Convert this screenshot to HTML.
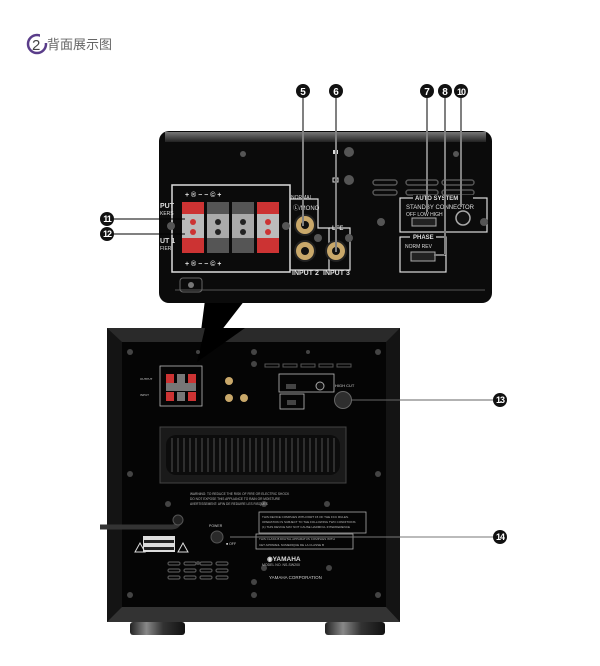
<!DOCTYPE html>
<html><head><meta charset="utf-8"><style>
html,body{margin:0;padding:0;background:#fff;width:600px;height:666px;overflow:hidden}
svg{display:block}
text{font-family:"Liberation Sans",sans-serif}
</style></head><body>
<svg width="600" height="666" viewBox="0 0 600 666" xmlns="http://www.w3.org/2000/svg">
<defs>
<linearGradient id="strip" x1="0" y1="0" x2="0" y2="1"><stop offset="0" stop-color="#777"/><stop offset="1" stop-color="#222"/></linearGradient>
<linearGradient id="foot" x1="0" y1="0" x2="1" y2="0"><stop offset="0" stop-color="#222"/><stop offset=".3" stop-color="#888"/><stop offset=".6" stop-color="#333"/><stop offset="1" stop-color="#111"/></linearGradient>
</defs>
<!-- header -->
<circle cx="37" cy="44" r="9" fill="none" stroke="#5a3d8a" stroke-width="2.5"/>
<rect x="40" y="34" width="8" height="9" fill="#fff"/>
<text x="32" y="50" font-size="15" fill="#444">2</text>
<text x="47" y="49" font-size="13" fill="#666" font-family="'Liberation Sans','Noto Sans CJK SC',sans-serif">背面展示图</text>

<!-- wedge pointer -->
<polygon points="205,300 245,300 197,362" fill="#000"/>

<!-- zoom panel -->
<rect x="159" y="131" width="333" height="172" rx="10" fill="#0b0b0b"/>
<rect x="165" y="132" width="321" height="10" fill="url(#strip)"/>
<line x1="175" y1="290" x2="485" y2="290" stroke="#555" stroke-width="1"/>
<rect x="180" y="278" width="22" height="14" rx="3" fill="none" stroke="#666"/>
<circle cx="191" cy="285" r="3" fill="#777"/>
<circle cx="243" cy="154" r="3" fill="#555"/>
<circle cx="456" cy="154" r="3" fill="#555"/>
<circle cx="349" cy="152" r="5" fill="#555"/><circle cx="349" cy="180" r="5" fill="#555"/>
<rect x="333" y="150" width="5" height="4" fill="#ddd"/><rect x="333" y="178" width="5" height="4" fill="none" stroke="#ddd"/>
<g fill="none" stroke="#555" stroke-width="1.5">
<rect x="373" y="180" width="24" height="5" rx="2.5"/><rect x="406" y="180" width="32" height="5" rx="2.5"/><rect x="442" y="180" width="32" height="5" rx="2.5"/>
<rect x="373" y="190" width="24" height="5" rx="2.5"/><rect x="406" y="190" width="32" height="5" rx="2.5"/><rect x="442" y="190" width="32" height="5" rx="2.5"/>
</g>
<circle cx="381" cy="222" r="4" fill="#555"/>
<!-- speaker terminals -->
<rect x="172" y="185" width="118" height="87" fill="none" stroke="#ddd" stroke-width="1.5"/>
<g>
<rect x="182" y="202" width="22" height="24" fill="#c33"/><rect x="207" y="202" width="22" height="24" fill="#555"/><rect x="232" y="202" width="22" height="24" fill="#555"/><rect x="257" y="202" width="22" height="24" fill="#c33"/>
<rect x="182" y="229" width="22" height="24" fill="#c33"/><rect x="207" y="229" width="22" height="24" fill="#555"/><rect x="232" y="229" width="22" height="24" fill="#555"/><rect x="257" y="229" width="22" height="24" fill="#c33"/>
<rect x="182" y="214" width="22" height="24" fill="#bbb"/><rect x="207" y="214" width="22" height="24" fill="#aaa"/><rect x="232" y="214" width="22" height="24" fill="#aaa"/><rect x="257" y="214" width="22" height="24" fill="#bbb"/>
<circle cx="193" cy="222" r="3" fill="#c33"/><circle cx="268" cy="222" r="3" fill="#c33"/><circle cx="193" cy="232" r="3" fill="#c33"/><circle cx="268" cy="232" r="3" fill="#c33"/>
<circle cx="218" cy="222" r="3" fill="#222"/><circle cx="243" cy="222" r="3" fill="#222"/><circle cx="218" cy="232" r="3" fill="#222"/><circle cx="243" cy="232" r="3" fill="#222"/>
</g>
<text x="185" y="197" font-size="7" fill="#ddd" font-weight="bold">+   ®   −       −   ©   +</text>
<text x="185" y="266" font-size="7" fill="#ddd" font-weight="bold">+   ®   −       −   ©   +</text>
<text x="160" y="208" font-size="7" fill="#ddd" font-weight="bold">PUT</text>
<text x="160" y="215" font-size="5" fill="#ddd">KERS</text>
<text x="160" y="243" font-size="7" fill="#ddd" font-weight="bold">UT 1</text>
<text x="160" y="250" font-size="5" fill="#ddd">FIER</text>
<circle cx="171" cy="226" r="4" fill="#555"/><circle cx="286" cy="226" r="4" fill="#555"/>
<!-- RCA -->
<path d="M290,199 L318,199 L318,228 L329,228 L329,270 L290,270" fill="none" stroke="#ddd" stroke-width="1.2"/>
<path d="M329,228 L350,228 L350,270 L329,270" fill="none" stroke="#ddd" stroke-width="1.2"/>
<text x="291" y="199" font-size="5" fill="#ddd">NORMAL</text>
<text x="293" y="210" font-size="6" fill="#ddd">Ⓛ/MONO</text>
<text x="332" y="230" font-size="6" fill="#ddd" font-weight="bold">LFE</text>
<text x="292" y="275" font-size="7" fill="#ddd" font-weight="bold">INPUT 2</text>
<text x="323" y="275" font-size="7" fill="#ddd" font-weight="bold">INPUT 3</text>
<g fill="#c9a86a" stroke="#222" stroke-width="2">
<circle cx="305" cy="225" r="10"/><circle cx="305" cy="251" r="10"/><circle cx="336" cy="251" r="10"/>
</g>
<g fill="#111"><circle cx="305" cy="225" r="4"/><circle cx="305" cy="251" r="4"/><circle cx="336" cy="251" r="4"/></g>
<circle cx="318" cy="238" r="4" fill="#555"/><circle cx="349" cy="238" r="4" fill="#555"/>
<!-- auto standby -->
<rect x="400" y="198" width="87" height="34" fill="none" stroke="#ddd" stroke-width="1.2"/>
<rect x="413" y="195" width="60" height="6" fill="#0b0b0b"/>
<text x="415" y="200" font-size="6" fill="#ddd" font-weight="bold">AUTO  SYSTEM</text>
<text x="406" y="209" font-size="6" fill="#ddd">STANDBY  CONNECTOR</text>
<text x="406" y="216" font-size="5" fill="#ddd">OFF LOW HIGH</text>
<rect x="412" y="218" width="24" height="8" fill="#222" stroke="#aaa"/>
<circle cx="463" cy="218" r="7" fill="#111" stroke="#aaa" stroke-width="1.5"/>
<circle cx="484" cy="222" r="4" fill="#555"/>
<rect x="400" y="237" width="46" height="35" fill="none" stroke="#ddd" stroke-width="1.2"/>
<rect x="410" y="234" width="26" height="6" fill="#0b0b0b"/>
<text x="413" y="239" font-size="6" fill="#ddd" font-weight="bold">PHASE</text>
<text x="405" y="248" font-size="5" fill="#ddd">NORM  REV</text>
<rect x="411" y="252" width="24" height="9" fill="#222" stroke="#aaa"/>
<!-- callout lines panel -->
<g stroke="#fff" stroke-width="2"><line x1="303" y1="98" x2="303" y2="226"/><line x1="336" y1="98" x2="336" y2="252"/><line x1="427" y1="98" x2="427" y2="212"/><line x1="461" y1="98" x2="461" y2="207"/><polyline points="445,98 445,255 434,255" fill="none"/></g>
<g stroke="#000" stroke-width="1"><line x1="303" y1="98" x2="303" y2="226"/><line x1="336" y1="98" x2="336" y2="252"/><line x1="427" y1="98" x2="427" y2="212"/><line x1="461" y1="98" x2="461" y2="207"/><polyline points="445,98 445,255 434,255" fill="none"/>
<line x1="113" y1="219" x2="185" y2="219"/><line x1="113" y1="234" x2="185" y2="234"/></g>
<g font-size="10" font-weight="bold" fill="#fff" text-anchor="middle">
<circle cx="303" cy="91" r="7" fill="#111"/><text x="303" y="95">5</text>
<circle cx="336" cy="91" r="7" fill="#111"/><text x="336" y="95">6</text>
<circle cx="427" cy="91" r="7" fill="#111"/><text x="427" y="95">7</text>
<circle cx="445" cy="91" r="7" fill="#111"/><text x="445" y="95">8</text>
<circle cx="461" cy="91" r="7" fill="#111"/><text x="461" y="95" font-size="9" letter-spacing="-1">10</text>
<circle cx="107" cy="219" r="7" fill="#111"/><text x="107" y="222" font-size="9" letter-spacing="-1">11</text>
<circle cx="107" cy="234" r="7" fill="#111"/><text x="107" y="237" font-size="9" letter-spacing="-1">12</text>
</g>

<!-- main unit -->
<rect x="107" y="328" width="293" height="294" fill="#141414"/>
<polygon points="107,328 400,328 386,342 122,342" fill="#2a2a2a"/>
<polygon points="107,622 400,622 386,607 122,607" fill="#333"/>
<rect x="122" y="342" width="264" height="265" fill="#050505"/>
<polygon points="197,362 205,328 245,328" fill="#000"/>
<rect x="130" y="622" width="55" height="13" rx="3" fill="url(#foot)"/>
<rect x="325" y="622" width="60" height="13" rx="3" fill="url(#foot)"/>
<g fill="#444">
<circle cx="130" cy="352" r="3"/><circle cx="254" cy="352" r="3"/><circle cx="378" cy="352" r="3"/><circle cx="198" cy="352" r="2"/><circle cx="308" cy="352" r="2"/>
<circle cx="130" cy="474" r="3"/><circle cx="378" cy="474" r="3"/><circle cx="130" cy="595" r="3"/><circle cx="254" cy="595" r="3"/><circle cx="378" cy="595" r="3"/>
<circle cx="254" cy="364" r="3"/><circle cx="168" cy="504" r="3"/><circle cx="264" cy="504" r="3"/><circle cx="327" cy="504" r="3"/><circle cx="198" cy="563" r="2"/><circle cx="264" cy="568" r="3"/><circle cx="329" cy="568" r="3"/><circle cx="254" cy="582" r="3"/>
</g>
<!-- mini connectors -->
<rect x="160" y="366" width="42" height="40" fill="none" stroke="#bbb" stroke-width=".8"/>
<g fill="#c33"><rect x="166" y="374" width="8" height="9"/><rect x="188" y="374" width="8" height="9"/><rect x="166" y="392" width="8" height="9"/><rect x="188" y="392" width="8" height="9"/></g>
<g fill="#777"><rect x="177" y="374" width="8" height="9"/><rect x="177" y="392" width="8" height="9"/><rect x="166" y="383" width="30" height="8"/></g>
<g fill="#c9a86a"><circle cx="229" cy="381" r="4"/><circle cx="229" cy="398" r="4"/><circle cx="244" cy="398" r="4"/></g>
<text x="140" y="380" font-size="3" fill="#ccc">OUTPUT</text><text x="140" y="396" font-size="3" fill="#ccc">INPUT</text>
<g fill="none" stroke="#555" stroke-width="1"><rect x="265" y="364" width="14" height="3"/><rect x="283" y="364" width="14" height="3"/><rect x="301" y="364" width="14" height="3"/><rect x="319" y="364" width="14" height="3"/><rect x="337" y="364" width="14" height="3"/></g>
<rect x="279" y="374" width="55" height="18" fill="none" stroke="#bbb" stroke-width=".8"/>
<rect x="280" y="394" width="24" height="15" fill="none" stroke="#bbb" stroke-width=".8"/>
<rect x="286" y="384" width="10" height="5" fill="#444"/><circle cx="320" cy="386" r="4" fill="#111" stroke="#aaa"/>
<rect x="287" y="400" width="9" height="5" fill="#444"/>
<text x="335" y="387" font-size="4" fill="#ccc">HIGH CUT</text>
<!-- heatsink -->
<rect x="160" y="427" width="186" height="56" fill="#1a1a1a" stroke="#444"/>
<rect x="166" y="435" width="174" height="40" rx="10" fill="#0c0c0c"/>
<g stroke="#3a3a3a" stroke-width="1.5">
<line x1="172" y1="438" x2="172" y2="472"/><line x1="178" y1="438" x2="178" y2="472"/><line x1="184" y1="438" x2="184" y2="472"/><line x1="190" y1="438" x2="190" y2="472"/><line x1="196" y1="438" x2="196" y2="472"/><line x1="202" y1="438" x2="202" y2="472"/><line x1="208" y1="438" x2="208" y2="472"/><line x1="214" y1="438" x2="214" y2="472"/><line x1="220" y1="438" x2="220" y2="472"/><line x1="226" y1="438" x2="226" y2="472"/><line x1="232" y1="438" x2="232" y2="472"/><line x1="238" y1="438" x2="238" y2="472"/><line x1="244" y1="438" x2="244" y2="472"/><line x1="250" y1="438" x2="250" y2="472"/><line x1="256" y1="438" x2="256" y2="472"/><line x1="262" y1="438" x2="262" y2="472"/><line x1="268" y1="438" x2="268" y2="472"/><line x1="274" y1="438" x2="274" y2="472"/><line x1="280" y1="438" x2="280" y2="472"/><line x1="286" y1="438" x2="286" y2="472"/><line x1="292" y1="438" x2="292" y2="472"/><line x1="298" y1="438" x2="298" y2="472"/><line x1="304" y1="438" x2="304" y2="472"/><line x1="310" y1="438" x2="310" y2="472"/><line x1="316" y1="438" x2="316" y2="472"/><line x1="322" y1="438" x2="322" y2="472"/><line x1="328" y1="438" x2="328" y2="472"/><line x1="334" y1="438" x2="334" y2="472"/>
</g>
<!-- labels -->
<g fill="#bbb" font-size="3.2"><text x="190" y="495">WARNING: TO REDUCE THE RISK OF FIRE OR ELECTRIC SHOCK</text><text x="190" y="500">DO NOT EXPOSE THIS APPLIANCE TO RAIN OR MOISTURE</text><text x="190" y="505">AVERTISSEMENT: AFIN DE REDUIRE LES RISQUES</text></g>
<rect x="259" y="512" width="107" height="21" fill="none" stroke="#aaa" stroke-width=".8"/>
<g fill="#bbb" font-size="3"><text x="262" y="518">THIS DEVICE COMPLIES WITH PART 15 OF THE FCC RULES.</text><text x="262" y="523">OPERATION IS SUBJECT TO THE FOLLOWING TWO CONDITIONS</text><text x="262" y="528">(1) THIS DEVICE MAY NOT CAUSE HARMFUL INTERFERENCE</text></g>
<rect x="256" y="534" width="97" height="15" fill="none" stroke="#aaa" stroke-width=".8"/>
<g fill="#bbb" font-size="3"><text x="259" y="540">THIS CLASS B DIGITAL APPARATUS COMPLIES WITH</text><text x="259" y="546">CET APPAREIL NUMERIQUE DE LA CLASSE B</text></g>
<text x="267" y="561" font-size="6.5" font-weight="bold" fill="#ddd">◉YAMAHA</text>
<text x="262" y="566" font-size="3.5" fill="#bbb">MODEL NO.  NS-SW200</text>
<text x="269" y="579" font-size="4.5" fill="#ccc">YAMAHA CORPORATION</text>
<rect x="143" y="536" width="32" height="16" fill="#ddd"/><rect x="144" y="540" width="30" height="3" fill="#222"/><rect x="144" y="547" width="30" height="3" fill="#222"/>
<polygon points="135,552 140,543 145,552" fill="none" stroke="#ddd"/><polygon points="178,552 183,543 188,552" fill="none" stroke="#ddd"/>
<g fill="none" stroke="#555" stroke-width="1.2"><rect x="168" y="562" width="12" height="3" rx="1.5"/><rect x="184" y="562" width="12" height="3" rx="1.5"/><rect x="200" y="562" width="12" height="3" rx="1.5"/><rect x="216" y="562" width="12" height="3" rx="1.5"/><rect x="168" y="569" width="12" height="3" rx="1.5"/><rect x="184" y="569" width="12" height="3" rx="1.5"/><rect x="200" y="569" width="12" height="3" rx="1.5"/><rect x="216" y="569" width="12" height="3" rx="1.5"/><rect x="168" y="576" width="12" height="3" rx="1.5"/><rect x="184" y="576" width="12" height="3" rx="1.5"/><rect x="200" y="576" width="12" height="3" rx="1.5"/><rect x="216" y="576" width="12" height="3" rx="1.5"/></g>
<!-- cable -->
<path d="M100,527 L172,527 Q178,527 180,520" fill="none" stroke="#333" stroke-width="5"/>
<circle cx="178" cy="520" r="5" fill="#222" stroke="#555"/>
<!-- power & knob -->
<text x="209" y="527" font-size="3.5" fill="#ccc">POWER</text>
<circle cx="217" cy="537" r="6" fill="#2a2a2a" stroke="#555"/>
<text x="226" y="545" font-size="3.5" fill="#ccc">■ OFF</text>
<circle cx="343" cy="400" r="8.5" fill="#2e2e2e" stroke="#666"/>
<line x1="348" y1="537" x2="493" y2="537" stroke="#444" stroke-width="1"/>
<line x1="230" y1="537" x2="493" y2="537" stroke="#777" stroke-width="1"/>
<line x1="351" y1="400" x2="493" y2="400" stroke="#666" stroke-width="1"/>
<g font-size="9" font-weight="bold" fill="#fff" text-anchor="middle" letter-spacing="-1">
<circle cx="500" cy="400" r="7" fill="#111"/><text x="500" y="403">13</text>
<circle cx="500" cy="537" r="7" fill="#111"/><text x="500" y="540">14</text>
</g>
</svg>
</body></html>
